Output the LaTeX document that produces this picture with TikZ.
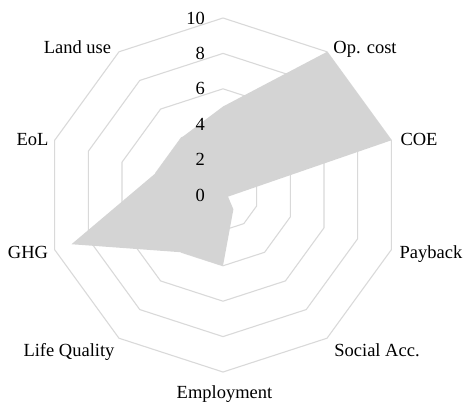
\documentclass[tikz,border=0pt]{standalone}
\usepackage{fontspec}
\setmainfont{Liberation Serif}
\definecolor{gridc}{RGB}{217,217,217}
\definecolor{fillc}{RGB}{212,212,212}
\begin{document}
\begin{tikzpicture}[x=1pt,y=1pt,
  lbl/.style={font=\fontsize{18.5}{20}\selectfont, inner sep=0pt, anchor=base},
  num/.style={font=\fontsize{18.5}{20}\selectfont, inner sep=0pt, anchor=east},
  ring/.style={draw=gridc, line width=1.1pt, line join=round}]
\useasboundingbox (-223,-210) rectangle (243,195);
% grid rings
\foreach \v in {2,4,...,10} {
  \draw[ring] (90:17.7*\v) \foreach \k in {1,...,9} { -- (90-36*\k:17.7*\v) } -- cycle;
}
% data points
\foreach \k/\val in {0/5,1/10,2/10,3/0.3,4/1,5/4,6/4,7/9,8/4,9/4} {
  \coordinate (p\k) at (90-36*\k:17.7*\val);
}
\fill[fillc] (p0) -- (p1) -- (p2) -- (p3) -- (p4) -- (p5) -- (p6) -- (p7) -- (p8) -- (p9) -- cycle;
% scale labels
\foreach \v in {0,2,...,10} {
  \node[num] (n\v) at (-18,17.7*\v) {\v};
}
% axis labels
\node[lbl] (landuse) at (-145.5,142) {Land use};
\node[lbl] (opcost) at (142,142) {Op. cost};
\node[lbl] (coe) at (196,50) {COE};
\node[lbl] (payback) at (208,-63) {Payback};
\node[lbl] (social) at (154,-161) {Social Acc.};
\node[lbl] (employment) at (1.5,-203) {Employment};
\node[lbl] (lifeq) at (-154,-161) {Life Quality};
\node[lbl] (ghg) at (-195,-63) {GHG};
\node[lbl] (eol) at (-190.5,50) {EoL};
\end{tikzpicture}
\end{document}
